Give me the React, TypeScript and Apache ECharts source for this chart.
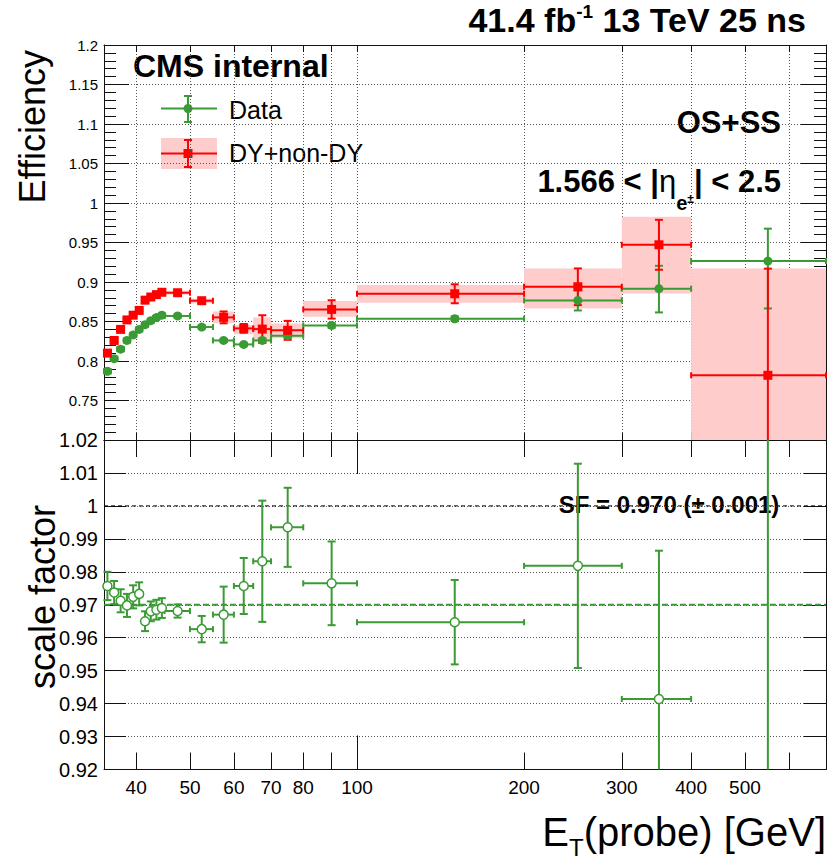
import React, { useEffect, useRef } from 'react';
import * as echarts from 'echarts';

const FONT = '"Liberation Sans", Arial, Helvetica, sans-serif';
const GREEN = '#3a9a33';
const RED = '#ff0000';
const PINK = '#ffcccc';
const GRIDLINE = '#555';

// ---- binning (GeV) ----
const binLo = [35, 36, 37, 38, 39, 40, 41, 42, 43, 44, 45, 50, 55, 60, 65, 70, 80, 100, 200, 300, 400];
const binHi = [36, 37, 38, 39, 40, 41, 42, 43, 44, 45, 50, 55, 60, 65, 70, 80, 100, 200, 300, 400, 700];

// ---- upper panel: efficiency ----
const effData = [0.787, 0.803, 0.815, 0.826, 0.833, 0.840, 0.846, 0.851, 0.855, 0.858, 0.857, 0.843, 0.826, 0.821, 0.826, 0.832, 0.845, 0.8535, 0.8767, 0.8915, 0.9265];
const effDataErrUp = [0.002, 0.002, 0.002, 0.002, 0.002, 0.002, 0.002, 0.002, 0.002, 0.002, 0.002, 0.002, 0.002, 0.002, 0.003, 0.003, 0.003, 0.003, 0.0127, 0.029, 0.041];
const effDataErrDn = [0.002, 0.002, 0.002, 0.002, 0.002, 0.002, 0.002, 0.002, 0.002, 0.002, 0.002, 0.002, 0.002, 0.002, 0.003, 0.003, 0.003, 0.003, 0.0127, 0.03, 0.06];

const effMC = [0.810, 0.826, 0.840, 0.852, 0.858, 0.864, 0.877, 0.881, 0.884, 0.887, 0.8864, 0.8763, 0.8552, 0.8413, 0.8404, 0.8388, 0.8653, 0.8851, 0.894, 0.9471, 0.7819];
const effMCErrUp = [0.002, 0.002, 0.002, 0.002, 0.002, 0.002, 0.002, 0.002, 0.002, 0.002, 0.002, 0.003, 0.0075, 0.0055, 0.0175, 0.012, 0.0116, 0.012, 0.0232, 0.0316, 0.135];
const effMCErrDn = [0.002, 0.002, 0.002, 0.002, 0.002, 0.002, 0.002, 0.002, 0.002, 0.002, 0.002, 0.003, 0.0075, 0.0055, 0.0175, 0.012, 0.0116, 0.012, 0.0232, 0.0316, 0.3];
const mcBandLo = [0.807, 0.823, 0.837, 0.849, 0.855, 0.861, 0.874, 0.878, 0.881, 0.884, 0.884, 0.873, 0.8477, 0.834, 0.8265, 0.8287, 0.856, 0.8737, 0.8666, 0.8856, 0.6];
const mcBandHi = [0.813, 0.829, 0.843, 0.855, 0.861, 0.867, 0.880, 0.884, 0.887, 0.890, 0.889, 0.879, 0.8627, 0.8455, 0.8552, 0.8476, 0.8759, 0.8961, 0.9172, 0.9825, 0.917];

// ---- lower panel: scale factor ----
const sf = [0.9757, 0.9737, 0.9712, 0.9698, 0.9724, 0.9733, 0.965, 0.968, 0.9685, 0.969, 0.9681, 0.9626, 0.967, 0.9757, 0.9832, 0.9935, 0.9765, 0.9647, 0.9818, 0.9414, 1.185];
const sfErr = [0.0043, 0.0035, 0.0035, 0.0035, 0.0035, 0.0035, 0.003, 0.003, 0.003, 0.003, 0.002, 0.004, 0.0085, 0.0085, 0.0184, 0.012, 0.0127, 0.0128, 0.031, 0.045, 0.3];
const SF_FIT = 0.970;
const SF_FIT_ERR = 0.001;

// ---- axes ----
const X_MIN = 35, X_MAX = 700;
const EFF_MIN = 0.7, EFF_MAX = 1.2, EFF_STEP = 0.05;
const SF_MIN = 0.92, SF_MAX = 1.02, SF_STEP = 0.01;
const xTickValues = [40, 50, 60, 70, 80, 90, 100, 200, 300, 400, 500, 600];
const xMinorTicks = [40, 50, 60, 70, 80, 90, 200, 300, 400, 500, 600];
const xDecadeTicks = [100];
const xLabelValues = [40, 50, 60, 70, 80, 100, 200, 300, 400, 500];

// ---- texts ----
const LUMI = '41.4';
const ENERGY = '13 TeV';
const BUNCH = '25 ns';
const CMS_LABEL = 'CMS internal';
const LEG_DATA = 'Data';
const LEG_MC = 'DY+non-DY';
const CHARGE = 'OS+SS';
const ETA_LO = '1.566';
const ETA_HI = '2.5';

const ctx = typeof document !== 'undefined' ? document.createElement('canvas').getContext('2d') : null;
function tw(t: string, size: number, weight: string) {
  if (!ctx) return t.length * size * 0.55;
  ctx.font = `${weight} ${size}px ${FONT}`;
  return ctx.measureText(t).width;
}
type Part = { t: string; size: number; weight?: string; dy?: number; fill?: string };
function textRun(parts: Part[], x: number, baseline: number, align: 'left' | 'right' | 'center') {
  const ws = parts.map(p => tw(p.t, p.size, p.weight || 'normal'));
  const total = ws.reduce((a, b) => a + b, 0);
  let cx = align === 'left' ? x : align === 'right' ? x - total : x - total / 2;
  return parts.map((p, i) => {
    const el = {
      type: 'text',
      x: cx,
      y: baseline + (p.dy || 0) - 0.3465 * p.size,
      silent: true,
      style: {
        text: p.t, fontSize: p.size, fontWeight: p.weight || 'normal', fontFamily: FONT,
        fill: p.fill || '#000', align: 'left', verticalAlign: 'middle',
      },
    };
    cx += ws[i];
    return el;
  });
}

function errBars(data: number[][], color: string, xIdx: number, yIdx: number, yMin: number, yMax: number, z: number) {
  return {
    type: 'custom', xAxisIndex: xIdx, yAxisIndex: yIdx, z, silent: true,
    data, encode: { x: 0, y: 1 },
    renderItem: (_p: any, api: any) => {
      const xc = api.value(0), y = api.value(1), xl = api.value(2), xh = api.value(3), yl = api.value(4), yh = api.value(5);
      const st = { stroke: color, lineWidth: 2 };
      const ch: any[] = [];
      const vcap = 4, hcap = 3;
      if (y >= yMin && y <= yMax) {
        const a = api.coord([xl, y]), b = api.coord([xh, y]);
        ch.push({ type: 'line', shape: { x1: a[0], y1: a[1], x2: b[0], y2: b[1] }, style: st });
        ch.push({ type: 'line', shape: { x1: a[0], y1: a[1] - hcap, x2: a[0], y2: a[1] + hcap }, style: st });
        ch.push({ type: 'line', shape: { x1: b[0], y1: b[1] - hcap, x2: b[0], y2: b[1] + hcap }, style: st });
      }
      const lo = Math.max(yl, yMin), hi = Math.min(yh, yMax);
      if (hi > lo) {
        const t = api.coord([xc, hi]), bt = api.coord([xc, lo]);
        ch.push({ type: 'line', shape: { x1: t[0], y1: t[1], x2: bt[0], y2: bt[1] }, style: st });
        if (yh <= yMax) ch.push({ type: 'line', shape: { x1: t[0] - vcap, y1: t[1], x2: t[0] + vcap, y2: t[1] }, style: st });
        if (yl >= yMin) ch.push({ type: 'line', shape: { x1: bt[0] - vcap, y1: bt[1], x2: bt[0] + vcap, y2: bt[1] }, style: st });
      }
      return { type: 'group', children: ch };
    },
  };
}

function buildOption() {
  const centers = binLo.map((lo, i) => (lo + binHi[i]) / 2);
  const dataBars = centers.map((c, i) => [c, effData[i], binLo[i], binHi[i], effData[i] - effDataErrDn[i], effData[i] + effDataErrUp[i]]);
  const mcBars = centers.map((c, i) => [c, effMC[i], binLo[i], binHi[i], effMC[i] - effMCErrDn[i], effMC[i] + effMCErrUp[i]]);
  const bands = binLo.map((lo, i) => [lo, binHi[i], mcBandLo[i], mcBandHi[i]]);
  const sfBars = centers.map((c, i) => [c, sf[i], binLo[i], binHi[i], sf[i] - sfErr[i], sf[i] + sfErr[i]]);

  const axisLineStyle = { color: '#111', width: 1 };
  const tickStyle = { color: '#111', width: 1 };
  const baseX = (gridIndex: number, position: string, showLine = true) => ({
    type: 'log', logBase: 10, gridIndex, position, min: X_MIN, max: X_MAX,
    axisLine: { show: showLine, onZero: false, lineStyle: axisLineStyle },
    axisLabel: { show: false },
    axisTick: { show: false },
    splitLine: { show: false },
    minorTick: { show: false },
    minorSplitLine: { show: false },
  });
  const xTicks = (values: number[], length: number) => ({ show: true, inside: true, length, customValues: values, lineStyle: tickStyle });

  const xAxis: any[] = [
    { ...baseX(0, 'bottom'), axisTick: xTicks(xTickValues, 7), splitLine: { show: true, lineStyle: { color: GRIDLINE, type: [1, 2], width: 1 } } },
    { ...baseX(0, 'top'), axisTick: xTicks(xTickValues, 7) },
    {
      ...baseX(1, 'bottom'), axisTick: xTicks(xMinorTicks, 17),
      axisLabel: { show: true, customValues: xLabelValues, formatter: (v: number) => String(Math.round(v)), fontSize: 19, fontFamily: FONT, color: '#000', margin: 8 },
    },
    { ...baseX(1, 'bottom', false), axisTick: xTicks(xDecadeTicks, 34) },
    { ...baseX(1, 'top'), axisTick: xTicks(xMinorTicks, 17) },
    { ...baseX(1, 'top', false), axisTick: xTicks(xDecadeTicks, 34) },
  ];

  const effFmt = (v: number) => (v <= EFF_MIN + 1e-6 ? '' : String(Number(v.toFixed(2))));
  const sfFmt = (v: number) => String(Number(v.toFixed(2)));
  const yAxis: any[] = [
    {
      type: 'value', gridIndex: 0, position: 'left', min: EFF_MIN, max: EFF_MAX, interval: EFF_STEP,
      axisLine: { show: true, onZero: false, lineStyle: axisLineStyle },
      axisTick: { show: true, inside: true, length: 25, lineStyle: tickStyle },
      minorTick: { show: true, splitNumber: 5, length: 12, lineStyle: tickStyle },
      axisLabel: { show: true, formatter: effFmt, fontSize: 15, fontFamily: FONT, color: '#000', margin: 6 },
      splitLine: { show: true, showMinLine: false, showMaxLine: false, lineStyle: { color: GRIDLINE, type: [1, 2], width: 1 } },
    },
    {
      type: 'value', gridIndex: 0, position: 'right', min: EFF_MIN, max: EFF_MAX, interval: EFF_STEP,
      axisLine: { show: true, onZero: false, lineStyle: axisLineStyle },
      axisTick: { show: true, inside: true, length: 25, lineStyle: tickStyle },
      minorTick: { show: true, splitNumber: 5, length: 12, lineStyle: tickStyle },
      axisLabel: { show: false }, splitLine: { show: false },
    },
    {
      type: 'value', gridIndex: 1, position: 'left', min: SF_MIN, max: SF_MAX, interval: SF_STEP,
      axisLine: { show: true, onZero: false, lineStyle: axisLineStyle },
      axisTick: { show: true, inside: true, length: 22, lineStyle: tickStyle },
      axisLabel: { show: true, formatter: sfFmt, fontSize: 20, fontFamily: FONT, color: '#000', margin: 6 },
      splitLine: { show: true, showMinLine: false, showMaxLine: false, lineStyle: { color: GRIDLINE, type: [1, 2], width: 1 } },
    },
    {
      type: 'value', gridIndex: 1, position: 'right', min: SF_MIN, max: SF_MAX, interval: SF_STEP,
      axisLine: { show: true, onZero: false, lineStyle: axisLineStyle },
      axisTick: { show: true, inside: true, length: 22, lineStyle: tickStyle },
      axisLabel: { show: false }, splitLine: { show: false },
    },
  ];

  const series: any[] = [
    {
      type: 'custom', xAxisIndex: 0, yAxisIndex: 0, z: 1, silent: true, data: bands, encode: { x: [0, 1], y: [2, 3] },
      renderItem: (_p: any, api: any) => {
        const lo = Math.max(api.value(2), EFF_MIN), hi = Math.min(api.value(3), EFF_MAX);
        const a = api.coord([api.value(0), hi]), b = api.coord([api.value(1), lo]);
        return { type: 'rect', shape: { x: a[0], y: a[1], width: b[0] - a[0], height: b[1] - a[1] }, style: { fill: PINK } };
      },
    },
    errBars(dataBars, GREEN, 0, 0, EFF_MIN, EFF_MAX, 3),
    errBars(mcBars, RED, 0, 0, EFF_MIN, EFF_MAX, 4),
    {
      type: 'scatter', xAxisIndex: 0, yAxisIndex: 0, z: 5, silent: true, clip: true,
      symbol: 'circle', symbolSize: 9, itemStyle: { color: GREEN, opacity: 1 },
      data: centers.map((c, i) => [c, effData[i]]),
    },
    {
      type: 'scatter', xAxisIndex: 0, yAxisIndex: 0, z: 6, silent: true, clip: true,
      symbol: 'rect', symbolSize: 9, itemStyle: { color: RED, opacity: 1 },
      data: centers.map((c, i) => [c, effMC[i]]),
    },
    {
      type: 'line', xAxisIndex: 2, yAxisIndex: 2, z: 2, silent: true, symbol: 'none',
      lineStyle: { color: '#000', width: 1, type: [4, 3] },
      data: [[X_MIN, 1], [X_MAX, 1]],
    },
    {
      type: 'line', xAxisIndex: 2, yAxisIndex: 2, z: 3, silent: true, symbol: 'none',
      lineStyle: { color: GREEN, width: 2, type: [6, 3] },
      data: [[X_MIN, SF_FIT], [X_MAX, SF_FIT]],
    },
    errBars(sfBars, GREEN, 2, 2, SF_MIN, SF_MAX, 4),
    {
      type: 'scatter', xAxisIndex: 2, yAxisIndex: 2, z: 5, silent: true, clip: true,
      symbol: 'circle', symbolSize: 9, itemStyle: { color: '#fff', borderColor: GREEN, borderWidth: 1.5, opacity: 1 },
      data: centers.map((c, i) => [c, sf[i]]).filter(d => d[1] <= SF_MAX && d[1] >= SF_MIN),
    },
  ];

  const st2 = { stroke: GREEN, lineWidth: 2 };
  const sr2 = { stroke: RED, lineWidth: 2 };
  const graphics: any[] = [
    ...textRun([
      { t: `${LUMI} fb`, size: 34, weight: 'bold' },
      { t: '-1', size: 19, weight: 'bold', dy: -14 },
      { t: ` ${ENERGY} ${BUNCH}`, size: 34, weight: 'bold' },
    ], 806, 32, 'right'),
    ...textRun([{ t: CMS_LABEL, size: 32, weight: 'bold' }], 133, 77, 'left'),
    ...textRun([{ t: CHARGE, size: 31, weight: 'bold' }], 781, 133, 'right'),
    ...textRun([
      { t: `${ETA_LO} < |`, size: 31, weight: 'bold' },
      { t: 'η', size: 31, weight: 'normal' },
      { t: 'e', size: 20, weight: 'bold', dy: 18 },
      { t: '±', size: 12, weight: 'bold', dy: 11 },
      { t: `| < ${ETA_HI}`, size: 31, weight: 'bold' },
    ], 781, 192, 'right'),
    ...textRun([{ t: `SF = ${SF_FIT.toFixed(3)} (± ${SF_FIT_ERR.toFixed(3)})`, size: 24, weight: 'bold' }], 669, 513, 'center'),
    ...textRun([
      { t: 'E', size: 40 },
      { t: 'T', size: 24, dy: 10 },
      { t: '(probe) [GeV]', size: 40 },
    ], 826, 846, 'right'),
    ...textRun([{ t: LEG_DATA, size: 25 }], 229, 119, 'left'),
    ...textRun([{ t: LEG_MC, size: 25 }], 229, 162, 'left'),
    {
      type: 'text', x: 32, y: 50, rotation: Math.PI / 2, silent: true,
      style: { text: 'Efficiency', fontSize: 36, fontFamily: FONT, fill: '#000', align: 'right', verticalAlign: 'middle' },
    },
    {
      type: 'text', x: 42, y: 597, rotation: Math.PI / 2, silent: true,
      style: { text: 'scale factor', fontSize: 36, fontFamily: FONT, fill: '#000', align: 'center', verticalAlign: 'middle' },
    },
    // legend: Data
    { type: 'line', silent: true, shape: { x1: 161, y1: 108.5, x2: 217, y2: 108.5 }, style: st2 },
    { type: 'line', silent: true, shape: { x1: 188, y1: 96, x2: 188, y2: 122 }, style: st2 },
    { type: 'line', silent: true, shape: { x1: 184, y1: 96, x2: 192, y2: 96 }, style: st2 },
    { type: 'line', silent: true, shape: { x1: 184, y1: 122, x2: 192, y2: 122 }, style: st2 },
    { type: 'circle', silent: true, shape: { cx: 188, cy: 108.5, r: 4.5 }, style: { fill: GREEN } },
    // legend: MC
    { type: 'rect', silent: true, shape: { x: 161, y: 138, width: 56, height: 31 }, style: { fill: PINK } },
    { type: 'line', silent: true, shape: { x1: 161, y1: 153.5, x2: 217, y2: 153.5 }, style: sr2 },
    { type: 'line', silent: true, shape: { x1: 188, y1: 140, x2: 188, y2: 167 }, style: sr2 },
    { type: 'line', silent: true, shape: { x1: 184, y1: 140, x2: 192, y2: 140 }, style: sr2 },
    { type: 'line', silent: true, shape: { x1: 184, y1: 167, x2: 192, y2: 167 }, style: sr2 },
    { type: 'rect', silent: true, shape: { x: 183.5, y: 149, width: 9, height: 9 }, style: { fill: RED } },
  ];

  return {
    animation: false,
    backgroundColor: '#fff',
    textStyle: { fontFamily: FONT },
    grid: [
      { left: 104, top: 45, width: 722, height: 395 },
      { left: 104, top: 440, width: 722, height: 329.5 },
    ],
    xAxis, yAxis, series,
    graphic: { elements: graphics },
  };
}

export default function App() {
  const ref = useRef<HTMLDivElement>(null);
  useEffect(() => {
    if (!ref.current) return;
    const chart = echarts.init(ref.current, null, { renderer: 'svg' });
    chart.setOption(buildOption() as any);
    return () => chart.dispose();
  }, []);
  return <div ref={ref} style={{ position: 'absolute', left: 0, top: 0, width: 831, height: 862, background: '#fff' }} />;
}
